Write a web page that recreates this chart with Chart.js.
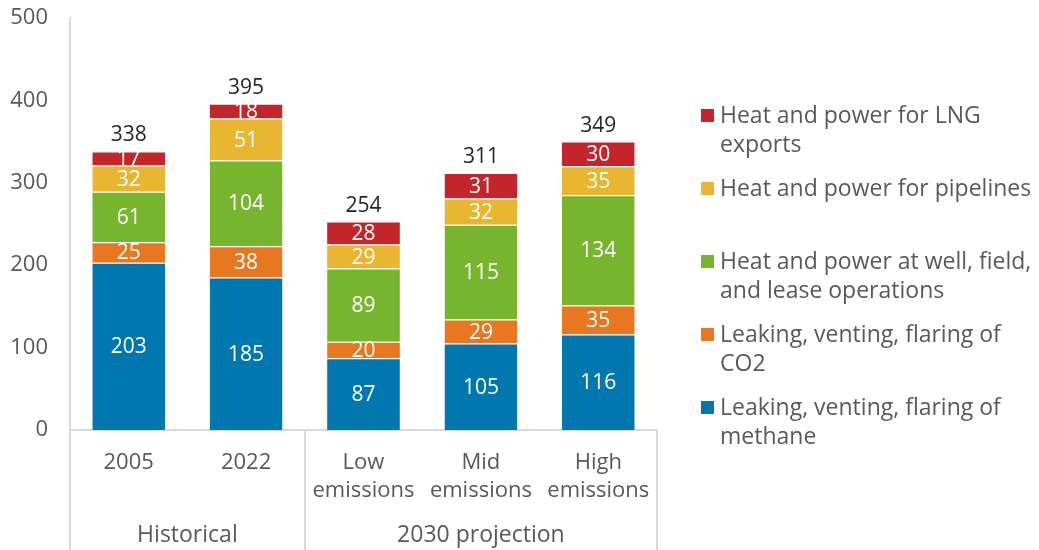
<!DOCTYPE html>
<html>
<head>
<meta charset="utf-8">
<script src="https://cdn.jsdelivr.net/npm/chart.js@4/dist/chart.umd.min.js"></script>
<style>
  html, body { margin: 0; padding: 0; background: #ffffff; }
  #wrap { position: relative; width: 1039px; height: 550px; }
</style>
</head>
<body>
<div id="wrap"><canvas id="c" width="1039" height="550"></canvas></div>
<script>
// ---- data ----
const categories = [["2005"], ["2022"], ["Low", "emissions"], ["Mid", "emissions"], ["High", "emissions"]];
const groups = ["Historical", "2030 projection"];
const groupSizes = [2, 3];

const methane   = [203, 185, 87, 105, 116];
const co2       = [25, 38, 20, 29, 35];
const wellField = [61, 104, 89, 115, 134];
const pipelines = [32, 51, 29, 32, 35];
const lngExport = [17, 18, 28, 31, 30];
const totals    = [338, 395, 254, 311, 349];

const seriesNames = [
  "Leaking, venting, flaring of methane",
  "Leaking, venting, flaring of CO2",
  "Heat and power at well, field, and lease operations",
  "Heat and power for pipelines",
  "Heat and power for LNG exports"
];
const legendLines = [
  ["Leaking, venting, flaring of", "methane"],
  ["Leaking, venting, flaring of", "CO2"],
  ["Heat and power at well, field,", "and lease operations"],
  ["Heat and power for pipelines"],
  ["Heat and power for LNG", "exports"]
];
const seriesColors = ["#0077AE", "#E87722", "#78B52E", "#E8B630", "#C3252A"];
const yTicks = [0, 100, 200, 300, 400, 500];

const FONT = "'Open Sans', 'Noto Sans', sans-serif";
const GRAY = "#595959";
const LINE = "#D9D9D9";

const seriesData = [methane, co2, wellField, pipelines, lngExport];

const overlay = {
  id: 'overlay',
  afterDraw(chart) {
    const ctx = chart.ctx;
    const xs = chart.scales.x;
    const ca = chart.chartArea;
    ctx.save();
    // separators under x axis
    const half = (xs.getPixelForValue(1) - xs.getPixelForValue(0)) / 2;
    const seps = [ca.left];
    let idx = 0;
    groupSizes.forEach(n => { idx += n; seps.push(xs.getPixelForValue(idx - 1) + half); });
    ctx.strokeStyle = LINE;
    ctx.lineWidth = 2;
    seps.forEach(x => {
      ctx.beginPath();
      ctx.moveTo(Math.round(x), ca.bottom);
      ctx.lineTo(Math.round(x), chart.height);
      ctx.stroke();
    });
    // group labels
    ctx.fillStyle = GRAY;
    ctx.font = "23px " + FONT;
    ctx.textAlign = "center";
    ctx.textBaseline = "middle";
    groups.forEach((g, i) => {
      ctx.fillText(g, (seps[i] + seps[i + 1]) / 2, 535);
    });
    // segment labels
    ctx.font = "21px " + FONT;
    ctx.fillStyle = "#ffffff";
    chart.data.datasets.forEach((ds, di) => {
      const meta = chart.getDatasetMeta(di);
      meta.data.forEach((bar, j) => {
        const yc = (bar.y + bar.base) / 2;
        ctx.fillText(String(ds.data[j]), bar.x, yc + 1);
      });
    });
    // totals
    ctx.fillStyle = "#262626";
    const topMeta = chart.getDatasetMeta(chart.data.datasets.length - 1);
    topMeta.data.forEach((bar, j) => {
      ctx.fillText(String(totals[j]), bar.x, bar.y - 16);
    });
    // legend
    ctx.textAlign = "left";
    ctx.font = "23px " + FONT;
    const order = [4, 3, 2, 1, 0];
    order.forEach((si, k) => {
      const y0 = 115 + k * 73;
      ctx.fillStyle = seriesColors[si];
      ctx.fillRect(701, y0 - 6, 13, 13);
      ctx.fillStyle = GRAY;
      legendLines[si].forEach((ln, li) => ctx.fillText(ln, 720, y0 + li * 29 + 1));
    });
    ctx.restore();
  }
};

new Chart(document.getElementById('c'), {
  type: 'bar',
  data: {
    labels: categories,
    datasets: seriesData.map((d, i) => ({
      label: seriesNames[i],
      data: d,
      backgroundColor: seriesColors[i],
      borderColor: "#ffffff",
      borderWidth: { top: 1, left: 0, right: 0, bottom: 0 },
      borderSkipped: false,
      categoryPercentage: 1.0,
      barPercentage: 0.62
    }))
  },
  options: {
    responsive: false,
    animation: false,
    layout: { padding: { left: 0, right: 382, top: 18, bottom: 0 } },
    plugins: { legend: { display: false }, tooltip: { enabled: false } },
    scales: {
      x: {
        stacked: true,
        grid: { display: false, drawTicks: false },
        border: { display: true, color: LINE, width: 2 },
        ticks: { color: GRAY, font: { size: 22, family: FONT, lineHeight: 1.27 }, padding: 19, maxRotation: 0, autoSkip: false },
        afterFit: s => { s.height = 120; }
      },
      y: {
        stacked: true,
        min: 0, max: 500,
        afterBuildTicks: s => { s.ticks = yTicks.map(v => ({ value: v })); },
        grid: { display: false, drawTicks: false },
        border: { display: true, color: LINE, width: 2 },
        ticks: { color: GRAY, font: { size: 22, family: FONT }, padding: 22 },
        afterFit: s => { s.width = 70; s.paddingTop = 0; s.paddingBottom = 0; }
      }
    }
  },
  plugins: [overlay]
});
</script>
</body>
</html>
